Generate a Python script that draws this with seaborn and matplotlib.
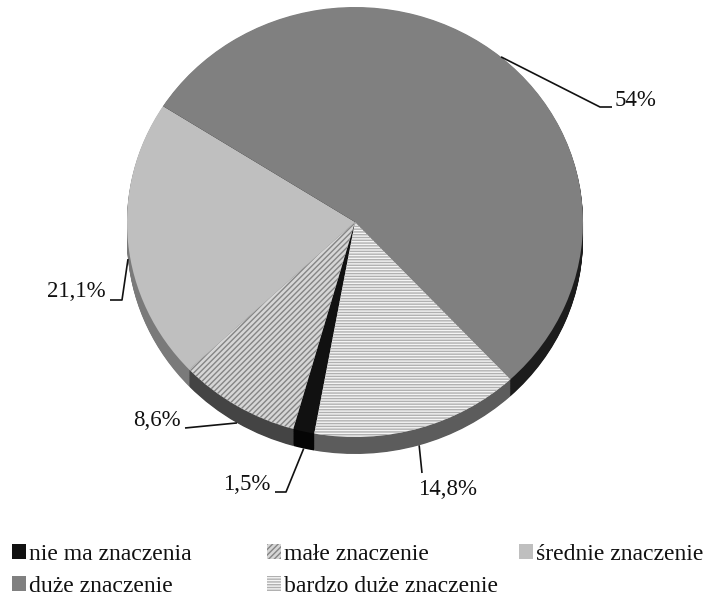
import numpy as np
import matplotlib
matplotlib.use('Agg')
import matplotlib.pyplot as plt
import matplotlib.font_manager as fm
import seaborn as sns
from matplotlib.patches import Patch

# ---- data ----
categories = ['nie ma znaczenia', 'małe znaczenie', 'średnie znaczenie',
              'duże znaczenie', 'bardzo duże znaczenie']
values = [1.5, 8.6, 21.1, 54.0, 14.8]
value_labels = ['1,5%', '8,6%', '21,1%', '54%', '14,8%']

# ---- style ----
sns.set_theme(style='white')
names = {f.name for f in fm.fontManager.ttflist}
serif = next((n for n in ['Liberation Serif', 'Times New Roman', 'Nimbus Roman',
                          'DejaVu Serif'] if n in names), 'serif')
plt.rcParams['font.family'] = [serif, 'DejaVu Serif']
plt.rcParams['font.serif'] = [serif, 'DejaVu Serif']
plt.rcParams['hatch.linewidth'] = 1.0

W, H = 708, 597
fig = plt.figure(figsize=(W / 100, H / 100), dpi=100)
ax = fig.add_axes([0, 0, 1, 1])

CX, CY, RX, RY = 355, 222, 228, 215
DEPTH = 17 / RY
START = 259.7

top_colors = ['#111111', '#d6d6d6', '#bfbfbf', '#808080', '#f4f4f4']
hatches = [None, '//////', None, None, '------']
hatch_colors = ['#111111', '#858585', '#bfbfbf', '#808080', '#b0b0b0']
side_colors = ['#050505', '#444444', '#7a7a7a', '#1c1c1c', '#5c5c5c']

# side of the 3D pie: stacked layers
N = 24
for k in range(N):
    off = -DEPTH * (1 - k / N)
    ax.pie(values, startangle=START, counterclock=False, center=(0, off),
           colors=side_colors, wedgeprops=dict(linewidth=0))

wedges, _ = ax.pie(values, startangle=START, counterclock=False,
                   colors=top_colors, wedgeprops=dict(linewidth=0))
for w, h, hc in zip(wedges, hatches, hatch_colors):
    w.set_edgecolor(hc)
    w.set_linewidth(0)
    if h:
        w.set_hatch(h)

ax.set_aspect('auto')
ax.set_xlim(-CX / RX, (W - CX) / RX)
ax.set_ylim(-(H - CY) / RY, CY / RY)
ax.axis('off')


def px(x, y):
    return ((x - CX) / RX, (CY - y) / RY)


# ---- labels with leader lines ----
text_pos = [(270, 485, 'right'), (181, 421, 'right'), (106, 292, 'right'),
            (615, 101, 'left'), (448, 490, 'center')]
elbows = [[(286, 492), (275, 492)], [(185, 428)], [(122, 300), (110, 300)],
          [(600, 107), (612, 107)], [(422, 473)]]

theta = START
for v, lab, (tx, ty, ha), el in zip(values, value_labels, text_pos, elbows):
    span = v * 3.6
    mid = np.deg2rad(theta - span / 2)
    theta -= span
    sx, sy = np.cos(mid), np.sin(mid)
    if sy < 0:
        sy -= DEPTH
    pts = [(sx, sy)] + [px(*p) for p in el]
    xs, ys = zip(*pts)
    ax.plot(xs, ys, color='#111111', lw=1.2, solid_capstyle='butt')
    ax.text(*px(tx, ty), lab, ha=ha, va='center', fontsize=16.5, color='#111111')

# ---- legend (row-major, 3 columns) ----
handles = [Patch(facecolor=fc, edgecolor=hc, hatch=h, linewidth=0)
           for fc, hc, h in zip(top_colors, hatch_colors, hatches)]
cols = [[0, 3], [1, 4], [2]]
col_x = [12, 267, 519]
for idx, x in zip(cols, col_x):
    fig.legend([handles[i] for i in idx], [categories[i] for i in idx],
               loc='upper left', bbox_to_anchor=(x / W, 1 - 544 / H),
               frameon=False, fontsize=17, borderpad=0, borderaxespad=0,
               handlelength=0.6, handleheight=0.6, handletextpad=0.13,
               labelspacing=0.45, labelcolor='#111111')

fig.savefig('out.png', dpi=100)
